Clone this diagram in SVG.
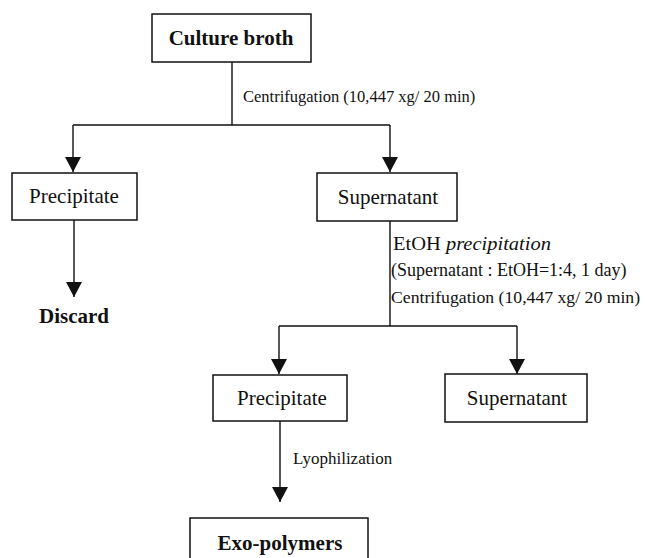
<svg xmlns="http://www.w3.org/2000/svg" width="650" height="558" viewBox="0 0 650 558">
<defs>
<style>
.box{fill:#fff;stroke:#111;stroke-width:1.5}
.ln{fill:none;stroke:#111;stroke-width:1.4}
.t{font-family:"Liberation Serif","Times New Roman",serif;font-size:21px;fill:#111;text-anchor:middle}
.b{font-weight:bold}
.lbl{font-family:"Liberation Serif","Times New Roman",serif;fill:#111}
</style>
<marker id="ah" markerUnits="userSpaceOnUse" markerWidth="15" markerHeight="16" viewBox="0 0 15 16" refX="15" refY="8" orient="auto">
<path d="M0,0 L15,8 L0,16 z" fill="#111"/>
</marker>
</defs>
<rect width="650" height="558" fill="#fff"/>
<g id="connectors">
<path class="ln" d="M232,62 V125 M73,125 H390"/>
<path class="ln" d="M73,125 V172" marker-end="url(#ah)"/>
<path class="ln" d="M390,125 V172" marker-end="url(#ah)"/>
<path class="ln" d="M74,220 V297" marker-end="url(#ah)"/>
<path class="ln" d="M390,221 V326 M279,326 H517"/>
<path class="ln" d="M279,326 V374" marker-end="url(#ah)"/>
<path class="ln" d="M517,326 V374" marker-end="url(#ah)"/>
<path class="ln" d="M280,421 V502" marker-end="url(#ah)"/>
<text class="lbl" x="243" y="102" font-size="16.5">Centrifugation (10,447 xg/ 20 min)</text>
<text class="lbl" x="393" y="250" font-size="18" textLength="158" lengthAdjust="spacingAndGlyphs">EtOH <tspan font-style="italic">precipitation</tspan></text>
<text class="lbl" x="391" y="276" font-size="18">(Supernatant : EtOH=1:4, 1 day)</text>
<text class="lbl" x="391" y="303" font-size="17.7">Centrifugation (10,447 xg/ 20 min)</text>
<text class="lbl" x="293" y="464" font-size="17">Lyophilization</text>
</g>
<g id="culture-broth">
<rect class="box" x="152" y="14" width="159" height="48"/>
<text class="t b" x="231" y="45">Culture broth</text>
</g>
<g id="precipitate-1">
<rect class="box" x="12" y="173" width="125" height="47"/>
<text class="t" x="74" y="203">Precipitate</text>
</g>
<g id="supernatant-1">
<rect class="box" x="317" y="173" width="140" height="48"/>
<text class="t" x="388" y="204">Supernatant</text>
</g>
<g id="discard">
<text class="t b" x="74" y="323">Discard</text>
</g>
<g id="precipitate-2">
<rect class="box" x="213" y="375" width="134" height="46"/>
<text class="t" x="282" y="405">Precipitate</text>
</g>
<g id="supernatant-2">
<rect class="box" x="445" y="374" width="142" height="48"/>
<text class="t" x="517" y="405">Supernatant</text>
</g>
<g id="exo-polymers">
<rect class="box" x="190" y="518" width="178" height="50"/>
<text class="t b" x="280" y="550">Exo-polymers</text>
</g>
</svg>
